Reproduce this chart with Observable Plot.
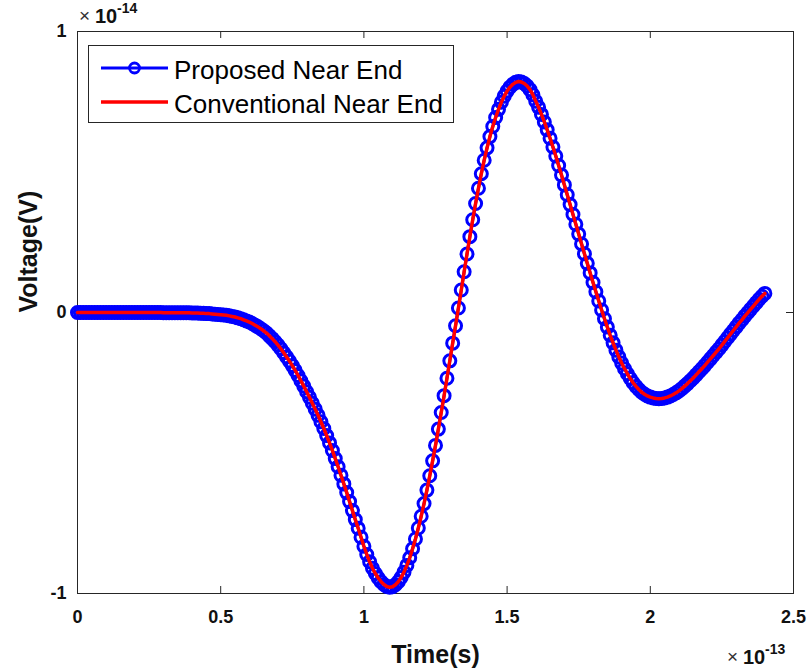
<!DOCTYPE html>
<html><head><meta charset="utf-8">
<script src="https://cdn.jsdelivr.net/npm/d3@7"></script>
<script src="https://cdn.jsdelivr.net/npm/@observablehq/plot@0.6"></script>
<style>
body{margin:0;background:#fff;}
#wrap{position:relative;width:812px;height:672px;overflow:hidden;}
#overlay{position:absolute;left:0;top:0;pointer-events:none;}
</style></head><body><div id="wrap"></div>
<script>
// ---- data (time in units of 1e-13 s, voltage in units of 1e-14 V) ----
const xTicks = [0, 0.5, 1, 1.5, 2, 2.5];
const xTickLabels = ["0", "0.5", "1", "1.5", "2", "2.5"];
const yTicks = [-1, 0, 1];
const yTickLabels = ["-1", "0", "1"];
const seriesNames = ["Proposed Near End", "Conventional Near End"];
const xLabel = "Time(s)";
const yLabel = "Voltage(V)";
const xExponent = "-13";
const yExponent = "-14";
const timeStep = 0.01; // sample spacing, starting at t = 0

const proposed = [
  0,0,0,0,0,0,0,0,0,0,
  0,0,0,0,0,0,0,0,0,0,
  0,0,0,0,0,0,0,0,0,0,
  -0.001,-0.001,-0.001,-0.001,-0.001,-0.001,-0.001,-0.001,-0.001,-0.001,
  -0.002,-0.002,-0.002,-0.003,-0.003,-0.004,-0.004,-0.005,-0.006,-0.007,
  -0.008,-0.009,-0.010,-0.012,-0.014,-0.016,-0.019,-0.022,-0.026,-0.030,
  -0.034,-0.039,-0.045,-0.051,-0.058,-0.065,-0.073,-0.083,-0.093,-0.104,
  -0.116,-0.129,-0.143,-0.158,-0.173,-0.189,-0.206,-0.224,-0.243,-0.262,
  -0.282,-0.302,-0.323,-0.344,-0.366,-0.389,-0.413,-0.438,-0.464,-0.491,
  -0.520,-0.549,-0.579,-0.610,-0.641,-0.673,-0.705,-0.737,-0.768,-0.800,
  -0.832,-0.861,-0.887,-0.910,-0.929,-0.945,-0.958,-0.968,-0.975,-0.978,
  -0.976,-0.969,-0.958,-0.943,-0.924,-0.900,-0.873,-0.841,-0.806,-0.767,
  -0.725,-0.680,-0.632,-0.581,-0.528,-0.473,-0.415,-0.356,-0.296,-0.234,
  -0.172,-0.109,-0.047,0.016,0.080,0.145,0.208,0.270,0.330,0.388,
  0.442,0.494,0.542,0.586,0.626,0.662,0.694,0.723,0.748,0.770,
  0.788,0.802,0.812,0.819,0.822,0.820,0.815,0.806,0.793,0.775,
  0.752,0.730,0.705,0.678,0.650,0.620,0.589,0.557,0.523,0.489,
  0.454,0.419,0.384,0.349,0.314,0.279,0.244,0.209,0.175,0.141,
  0.107,0.074,0.041,0.009,-0.022,-0.052,-0.081,-0.108,-0.134,-0.158,
  -0.180,-0.200,-0.218,-0.235,-0.250,-0.263,-0.274,-0.284,-0.291,-0.297,
  -0.301,-0.304,-0.306,-0.307,-0.306,-0.304,-0.301,-0.297,-0.292,-0.286,
  -0.279,-0.271,-0.262,-0.253,-0.243,-0.233,-0.222,-0.211,-0.200,-0.189,
  -0.177,-0.165,-0.153,-0.141,-0.129,-0.116,-0.103,-0.090,-0.077,-0.064,
  -0.051,-0.038,-0.026,-0.013,-0.001,0.011,0.023,0.035,0.047,0.058,
  0.068
];
// the conventional trace lies on top of the proposed one in the picture
const conventional = [...proposed];

// ---- build ----
const ink = "#262626";
const blue = "#0000ff", red = "#ff0000";
const W = 812, H = 672, mL = 77, mR = 19, mT = 31, mB = 79;
const innerW = W - mL - mR, innerH = H - mT - mB, tick = 7;
const rowsP = proposed.map((v, i) => ({t: i * timeStep, v}));
const rowsC = conventional.map((v, i) => ({t: i * timeStep, v}));
const font = "'Liberation Sans', Arial, Helvetica, sans-serif";
const yLo = yTicks[0], yHi = yTicks[yTicks.length - 1];
const xLo = xTicks[0], xHi = xTicks[xTicks.length - 1];

const chart = Plot.plot({
  width: W, height: H,
  marginLeft: mL, marginRight: mR, marginTop: mT, marginBottom: mB,
  style: {fontFamily: font, background: "#fff", overflow: "visible"},
  x: {domain: [xLo, xHi]},
  y: {domain: [yLo, yHi]},
  marks: [
    Plot.frame({stroke: ink, strokeWidth: 1}),
    // inward ticks on all four sides (MATLAB box style)
    Plot.ruleX(xTicks, {x: d => d, y1: yHi, y2: yLo, insetTop: innerH - tick, stroke: ink}),
    Plot.ruleX(xTicks, {x: d => d, y1: yHi, y2: yLo, insetBottom: innerH - tick, stroke: ink}),
    Plot.ruleY(yTicks, {y: d => d, x1: xLo, x2: xHi, insetRight: innerW - tick, stroke: ink}),
    Plot.ruleY(yTicks, {y: d => d, x1: xLo, x2: xHi, insetLeft: innerW - tick, stroke: ink}),
    Plot.axisX(xTicks, {tickSize: 0, tickPadding: 17, tickFormat: d => xTickLabels[xTicks.indexOf(d)],
      fontSize: 18, fontWeight: "bold", color: "#111", label: null}),
    Plot.axisY(yTicks, {tickSize: 0, tickPadding: 11, tickFormat: d => yTickLabels[yTicks.indexOf(d)],
      fontSize: 18, fontWeight: "bold", color: "#111", label: null}),
    Plot.text([xLabel], {text: d => d, frameAnchor: "bottom", dy: 61, fontSize: 25, fontWeight: "bold", fill: "#111", lineAnchor: "middle"}),
    Plot.text([yLabel], {text: d => d, frameAnchor: "left", dx: -49, rotate: -90, fontSize: 25, fontWeight: "bold", fill: "#111", lineAnchor: "middle"}),
    Plot.line(rowsP, {x: "t", y: "v", stroke: blue, strokeWidth: 3}),
    Plot.dot(rowsP, {x: "t", y: "v", r: 6, stroke: blue, strokeWidth: 3, fill: "none"}),
    Plot.line(rowsC, {x: "t", y: "v", stroke: red, strokeWidth: 3.5})
  ]
});
const wrap = document.getElementById("wrap");
wrap.appendChild(chart);

// ---- overlay: legend and exponent labels ----
const ns = "http://www.w3.org/2000/svg";
const ov = document.createElementNS(ns, "svg");
ov.setAttribute("id", "overlay");
ov.setAttribute("width", W); ov.setAttribute("height", H);
ov.style.fontFamily = font;
function el(tag, attrs, txt) {
  const e = document.createElementNS(ns, tag);
  for (const k in attrs) e.setAttribute(k, attrs[k]);
  if (txt != null) e.textContent = txt;
  ov.appendChild(e);
  return e;
}
// legend box
const lg = {x: 88, y: 45.5, w: 365, h: 77};
el("rect", {x: lg.x + 0.5, y: lg.y, width: lg.w, height: lg.h, fill: "#fff", stroke: ink, "stroke-width": 1});
const rowsY = [68, 102];
const colors = [blue, red];
seriesNames.forEach((name, i) => {
  const y = rowsY[i];
  el("line", {x1: lg.x + 13, x2: lg.x + 80, y1: y, y2: y, stroke: colors[i], "stroke-width": i ? 3.5 : 3});
  if (i === 0) el("circle", {cx: lg.x + 46.5, cy: y, r: 5, fill: "none", stroke: blue, "stroke-width": 2.8});
  el("text", {x: lg.x + 86, y: y + 10.5, "font-size": 26, fill: "#000"}, name);
});
// exponent multipliers
function mult(x, yBase, exp) {
  el("text", {x: x, y: yBase - 1, "font-size": 19, fill: "#333"}, "\u00d7");
  el("text", {x: x + 16, y: yBase, "font-size": 20, "font-weight": "bold", fill: "#111"}, "10");
  el("text", {x: x + 38, y: yBase - 10, "font-size": 14, "font-weight": "bold", fill: "#111"}, exp);
}
mult(79, 23, yExponent);
mult(727, 664, xExponent);
wrap.appendChild(ov);
</script></body></html>
